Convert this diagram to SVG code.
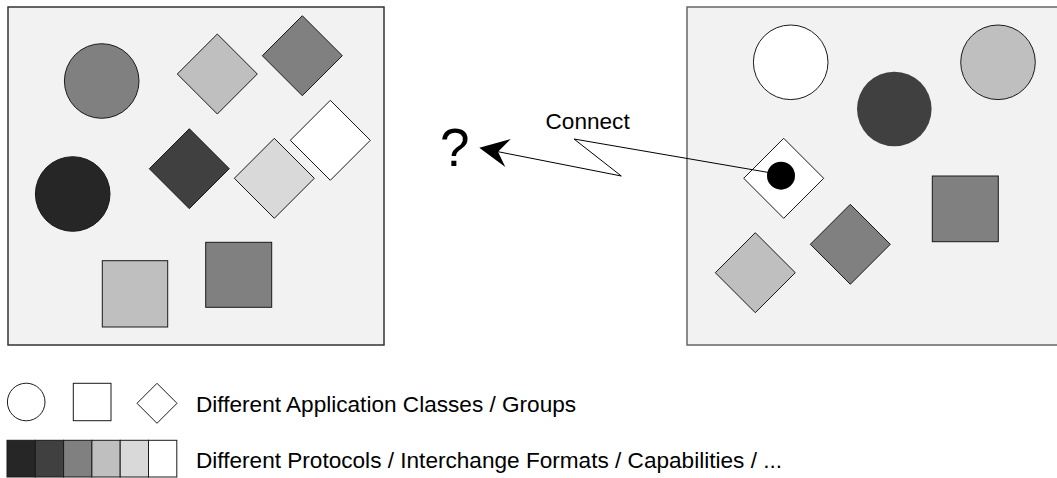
<svg xmlns="http://www.w3.org/2000/svg" width="1057" height="478" viewBox="0 0 1057 478">
<style>
.panel{fill:#f2f2f2;stroke:#333;stroke-width:1.5}
.sh{stroke:#1a1a1a;stroke-width:1}
.c1{fill:#262626}.c2{fill:#404040}.c3{fill:#808080}.c4{fill:#bfbfbf}.c5{fill:#d9d9d9}.c6{fill:#ffffff}
.t{font-family:"Liberation Sans",Arial,sans-serif;font-size:22.6px;fill:#000}
.conn{fill:none;stroke:#000;stroke-width:1}
</style>
<defs>
<polygon id="dm" points="0,-40 40,0 0,40 -40,0"/>
</defs>
<g id="left-panel">
<rect class="panel" x="8" y="7" width="376" height="338"/>
<circle class="sh c3" cx="101.7" cy="81" r="37.3"/>
<circle class="sh c1" cx="72.7" cy="194" r="37.3"/>
<use href="#dm" class="sh c4" x="217.3" y="74"/>
<use href="#dm" class="sh c3" x="302.3" y="55.7"/>
<use href="#dm" class="sh c2" x="189.3" y="168.7"/>
<use href="#dm" class="sh c5" x="274.3" y="178.3"/>
<use href="#dm" class="sh c6" x="330.3" y="140.3"/>
<rect class="sh c4" x="102.3" y="260.7" width="65.4" height="66.3"/>
<rect class="sh c3" x="205.7" y="242.3" width="66" height="65"/>
</g>
<g id="right-panel">
<rect x="687" y="7" width="380" height="338" fill="#f2f2f2" stroke="#666" stroke-width="1.5"/>
<circle class="sh c6" cx="790.7" cy="62.3" r="37.3"/>
<circle class="c2" cx="894.3" cy="109" r="37.3"/>
<circle class="sh c4" cx="998" cy="62.3" r="37.3"/>
<use href="#dm" class="sh c6" x="783.7" y="178.3"/>
<use href="#dm" class="sh c3" x="850.3" y="244.3"/>
<use href="#dm" class="sh c4" x="755.3" y="272.7"/>
<rect class="sh c3" x="932.3" y="176" width="66" height="65.7"/>
</g>
<g id="connectors">
<polyline class="conn" points="773.3,173.3 574,139 621.3,176 498,151.7"/>
<polygon points="479.3,147.7 510.7,139 498,151.7 505.3,167" fill="#000"/>
</g>
<g id="app-dot">
<circle cx="781" cy="175.7" r="14" fill="#000"/>
</g>
<g id="labels">
<text class="t" x="545.5" y="129.3">Connect</text>
<text x="440" y="166" style="font-family:'Liberation Sans',Arial,sans-serif;font-size:53px">?</text>
</g>
<g id="legend-shapes">
<circle class="sh c6" cx="26.2" cy="402" r="18.8"/>
<rect class="sh c6" x="73.3" y="383.3" width="37.7" height="37.4"/>
<polygon class="sh c6" points="157,383.3 177,403.3 157,423.3 137,403.3"/>
<text class="t" x="196" y="411.7">Different Application Classes / Groups</text>
</g>
<g id="legend-colors">
<rect class="sh c1" x="7" y="440.3" width="28.3" height="36.7"/>
<rect class="sh c2" x="35.3" y="440.3" width="28.3" height="36.7"/>
<rect class="sh c3" x="63.6" y="440.3" width="28.3" height="36.7"/>
<rect class="sh c4" x="91.9" y="440.3" width="28.3" height="36.7"/>
<rect class="sh c5" x="120.2" y="440.3" width="28.3" height="36.7"/>
<rect class="sh c6" x="148.5" y="440.3" width="28.3" height="36.7"/>
<text class="t" x="196" y="468.3">Different Protocols / Interchange Formats / Capabilities / ...</text>
</g>
</svg>
